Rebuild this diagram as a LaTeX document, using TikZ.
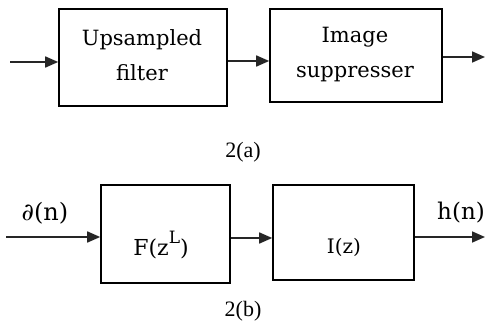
\documentclass[tikz,border=0pt]{standalone}
\usepackage{fontspec}
\setmainfont{Liberation Serif}
\newfontfamily\boxfont{DejaVu Serif}
\usetikzlibrary{arrows.meta}
\tikzset{
  blk/.style={draw=black,line width=1.6pt,minimum width=#1},
  conn/.style={draw=black!85,line width=1.6pt,-{Triangle[length=13pt,width=11pt]}},
  lbl/.style={font=\boxfont\fontsize{21}{35}\selectfont,align=center,inner sep=0pt},
  figcap/.style={font=\fontsize{22}{24}\selectfont,inner sep=0pt},
}
\begin{document}
\begin{tikzpicture}[x=1pt,y=-1pt]
\useasboundingbox[fill=white] (0,0) rectangle (487,328);
% top row
\node[blk=168pt,minimum height=97pt] (a1) at (143,57.5) {};
\node[blk=172pt,minimum height=93pt] (a2) at (356,55.5) {};
\node[lbl] (t1) at (142,55) {Upsampled\\filter};
\node[lbl] (t2) at (355,55) {Image\\suppresser};
\coordinate (ain) at (10,62);
\coordinate (amid) at (228,61);
\coordinate (aout) at (485,57);
\draw[conn] (ain) -- (ain -| a1.west);
\draw[conn] (amid -| a1.east) -- (amid -| a2.west);
\draw[conn] (aout -| a2.east) -- (aout);
\node[figcap] (ca) at (243,152) {2(a)};
% bottom row
\node[blk=129pt,minimum height=98pt] (b1) at (165.5,234) {};
\node[blk=141pt,minimum height=95pt] (b2) at (343.5,232.5) {};
\node[lbl,font=\boxfont\fontsize{22}{24}\selectfont] (t3) at (161,245) {F(z\raisebox{0.55em}{\fontsize{17}{18}\selectfont L})};
\node[lbl,font=\boxfont\fontsize{20}{22}\selectfont] (t4) at (344,247) {I(z)};
\coordinate (bin) at (6,237);
\coordinate (bmid) at (230,238);
\coordinate (bout) at (485,237);
\draw[conn] (bin) -- (bin -| b1.west);
\draw[conn] (bmid -| b1.east) -- (bmid -| b2.west);
\draw[conn] (bout -| b2.east) -- (bout);
\node[lbl,font=\boxfont\fontsize{24}{26}\selectfont] (din) at (45,213) {∂(n)};
\node[lbl,font=\boxfont\fontsize{23}{26}\selectfont] (hout) at (461,213) {h(n)};
\node[figcap] (cb) at (243,311) {2(b)};
\end{tikzpicture}
\end{document}
